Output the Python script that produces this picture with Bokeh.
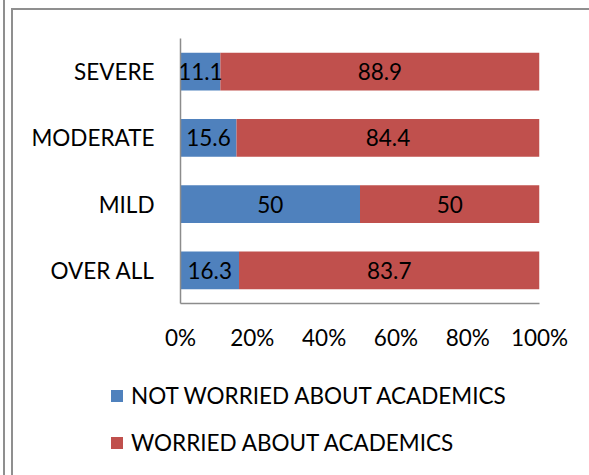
from bokeh.plotting import figure
from bokeh.layouts import column
from bokeh.models import (ColumnDataSource, FactorRange, Range1d, FixedTicker,
                          PrintfTickFormatter, LabelSet, Legend, LegendItem)
from bokeh.core.properties import value
from bokeh.embed import file_html
from bokeh.resources import INLINE

# ---- data ----
categories = ["SEVERE", "MODERATE", "MILD", "OVER ALL"]
not_worried = [11.1, 15.6, 50, 16.3]
worried = [88.9, 84.4, 50, 83.7]
series_names = ["NOT WORRIED ABOUT ACADEMICS", "WORRIED ABOUT ACADEMICS"]
x_ticks = [0, 20, 40, 60, 80, 100]

# ---- style ----
FONT = "Lato"
FS = "22.5px"
BLUE = "#4F81BD"
RED = "#C0504D"
COLORS = [BLUE, RED]
AXIS = "#8c8c8c"
FRAME = "#8f8f8f"
W = 589
H_TOP = 370
H_BOT = 105

src = ColumnDataSource(dict(
    cat=categories,
    nw=not_worried,
    w=worried,
    nw_mid=[a / 2 for a in not_worried],
    w_mid=[a + b / 2 for a, b in zip(not_worried, worried)],
    nw_txt=[f"{a:g}" for a in not_worried],
    w_txt=[f"{b:g}" for b in worried],
))

p = figure(width=W, height=H_TOP,
           y_range=FactorRange(factors=list(reversed(categories))),
           x_range=Range1d(0, 100),
           output_backend="svg", toolbar_location=None,
           min_border_left=180, min_border_right=50,
           min_border_top=38, min_border_bottom=H_TOP - 303)
p.frame_align = False

rs = p.hbar_stack(["nw", "w"], y="cat", height=0.57, color=COLORS,
                  line_color=None, source=src)

for xcol, tcol in (("nw_mid", "nw_txt"), ("w_mid", "w_txt")):
    p.add_layout(LabelSet(x=xcol, y="cat", text=tcol, source=src,
                          text_align="center", text_baseline="middle",
                          text_font=value(FONT), text_font_size=value(FS),
                          text_color="black"))

p.xgrid.visible = False
p.ygrid.visible = False
p.outline_line_color = None
p.border_fill_color = None
p.background_fill_color = "white"

p.xaxis.ticker = FixedTicker(ticks=x_ticks)
p.xaxis.formatter = PrintfTickFormatter(format="%d%%")
for ax in (p.xaxis[0], p.yaxis[0]):
    ax.major_tick_in = 0
    ax.major_tick_out = 0
    ax.minor_tick_in = 0
    ax.minor_tick_out = 0
    ax.axis_line_color = AXIS
    ax.axis_line_width = 1.5
    ax.major_label_text_font = FONT
    ax.major_label_text_font_size = FS
    ax.major_label_text_color = "black"
p.xaxis.major_label_standoff = 20
p.yaxis.major_label_standoff = 26

# ---- legend strip below the chart ----
p2 = figure(width=W, height=H_BOT,
            y_range=FactorRange(factors=list(reversed(categories))),
            x_range=Range1d(0, 100),
            output_backend="svg", toolbar_location=None,
            min_border=0, x_axis_location=None, y_axis_location=None)
p2.frame_align = False
p2.xgrid.visible = False
p2.ygrid.visible = False
p2.outline_line_color = None
p2.border_fill_color = None
p2.background_fill_color = None

# same series, hidden: they only feed the legend keys
key_rs = p2.hbar_stack(["nw", "w"], y="cat", height=0.57, color=COLORS,
                       line_color=None, source=src, visible=False)

legend = Legend(items=[LegendItem(label=n, renderers=[r]) for n, r in zip(series_names, key_rs)],
                location=(109, 19), orientation="vertical",
                glyph_width=15, glyph_height=15, label_standoff=7,
                spacing=20, padding=0, margin=0, label_height=20,
                border_line_color=None, background_fill_alpha=0,
                inactive_fill_alpha=0,
                label_text_font=FONT, label_text_font_size=FS,
                label_text_color="black")
p2.add_layout(legend, "center")

layout = column(p, p2, spacing=0)

# outer chart-area frame lines (page decoration), drawn as CSS backgrounds
g = f"linear-gradient({FRAME},{FRAME})"
layout.styles = {"background": f"{g} 3px 0px / 2px 100% no-repeat, "
                               f"{g} 11px 8px / 2px 100% no-repeat, "
                               f"{g} 11px 8px / 100% 2px no-repeat, white"}

open("out.html", "w").write(file_html(layout, INLINE))
